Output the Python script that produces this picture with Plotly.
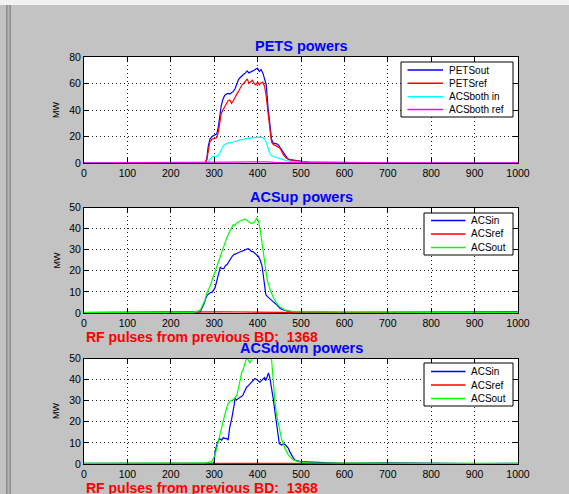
import plotly.graph_objects as go

W, H = 569, 494

# ---------------- data ----------------
x_axis_ticks = [0, 100, 200, 300, 400, 500, 600, 700, 800, 900, 1000]
y1_ticks = [0, 20, 40, 60, 80]
y23_ticks = [0, 10, 20, 30, 40, 50]

titles = ["PETS powers", "ACSup powers", "ACSdown powers"]
rf_text = "RF pulses from previous BD:  1368"
y_label = "MW"

pets_x = [0, 50, 100, 150, 200, 250, 270, 280, 283, 286, 290, 295, 300, 306, 310, 313, 316, 320,
          324, 328, 332, 336, 340, 344, 348, 352, 356, 360, 364, 368, 372, 376, 380, 384, 388, 392,
          396, 400, 404, 408, 412, 416, 420, 424, 428, 432, 436, 440, 444, 448, 452, 456, 460, 465,
          470, 475, 480, 490, 500, 510, 520, 540, 560, 600, 650, 700, 750, 800, 850, 900, 950, 1000]
pets_out = [0.3, 0.2, 0.3, 0.2, 0.3, 0.2, 0.3, 0.5, 3, 12, 18, 20, 21, 22, 28, 37, 43, 48,
            51, 52, 52.5, 52, 53, 54, 56, 60, 63, 64.5, 66, 67, 68, 69.5, 68, 68.5, 69.5, 70,
            71, 71.5, 69, 70.5, 68, 64, 59, 42, 28, 18, 15, 15, 14.5, 13.5, 11.5, 9.5, 7, 5,
            3, 2.5, 2.2, 1.8, 1.2, 0.8, 0.6, 0.5, 0.4, 0.4, 0.3, 0.3, 0.3, 0.4, 0.3, 0.3, 0.3, 0.3]
pets_ref = [0.2, 0.3, 0.2, 0.3, 0.2, 0.3, 0.2, 0.4, 2.5, 10, 16, 18, 18.5, 19, 24, 31, 37, 40,
            42, 45, 47, 47.5, 45, 47, 50, 52, 54, 57, 59, 60, 62, 63.5, 60, 61, 62.5, 60,
            59, 61, 59, 60.5, 61, 58, 50, 38, 26, 16, 14, 13.5, 13, 12, 11, 8, 6, 4,
            2.8, 2.2, 1.8, 1.5, 0.9, 0.7, 0.5, 0.4, 0.3, 0.3, 0.2, 0.3, 0.2, 0.3, 0.2, 0.3, 0.2, 0.3]
acsboth_in_x = [0, 100, 200, 280, 286, 290, 295, 300, 306, 310, 314, 318, 322, 326, 330, 340, 350,
                360, 370, 380, 390, 400, 410, 416, 420, 424, 428, 432, 440, 448, 456, 466, 480,
                500, 520, 600, 700, 800, 900, 1000]
acsboth_in = [0.1, 0.1, 0.1, 0.1, 0.5, 2.5, 4.5, 5, 5, 6, 8, 11, 13.5, 14.5, 15, 15.5, 16.5,
              17.5, 18.2, 18.8, 19.3, 19.5, 19.3, 18.5, 15.5, 11, 7.5, 5.5, 4.5, 3.5, 2.7, 1.8, 1,
              0.5, 0.3, 0.2, 0.2, 0.2, 0.1, 0.1]
acsboth_ref_x = [0, 280, 300, 350, 380, 400, 420, 440, 500, 1000]
acsboth_ref = [0.2, 0.2, 0.5, 0.7, 0.9, 1.0, 0.8, 0.5, 0.3, 0.2]

up_in_x = [0, 100, 200, 260, 268, 272, 276, 280, 284, 290, 296, 302, 306, 310, 314, 318, 322, 326,
           330, 334, 338, 342, 346, 350, 356, 362, 368, 374, 378, 382, 386, 390, 394, 398, 402,
           406, 410, 413, 416, 419, 424, 430, 436, 440, 446, 450, 456, 464, 470, 486, 500, 550,
           600, 700, 800, 900, 1000]
up_in = [0.2, 0.3, 0.2, 0.2, 0.5, 2.5, 4, 6.5, 8.5, 9.5, 10, 12, 15, 19, 21.7, 21, 21, 22.5,
         23, 24.5, 26, 27, 27.8, 28, 28.7, 29.2, 29.5, 30, 30.5, 30, 29.2, 29, 28.4, 27.5, 26.8,
         25, 22.5, 18, 12, 8.6, 7.5, 6.5, 5.5, 4.6, 3.5, 2.5, 1.7, 1.2, 0.9, 0.6, 0.5, 0.4,
         0.3, 0.3, 0.2, 0.3, 0.5]
up_ref_x = [0, 250, 300, 320, 350, 400, 450, 1000]
up_ref = [0.2, 0.2, 0.5, 0.6, 0.6, 0.5, 0.3, 0.2]
up_out_x = [0, 100, 200, 250, 256, 262, 268, 274, 279, 283, 290, 298, 306, 313, 321, 329, 336, 340,
            344, 348, 352, 359, 365, 371, 378, 386, 392, 398, 401, 403, 407, 412, 417, 422, 429,
            437, 444, 452, 463, 482, 500, 550, 600, 700, 800, 900, 1000]
up_out = [0.3, 0.2, 0.3, 0.3, 0.5, 1, 1.4, 4, 6.2, 9.4, 12.5, 17.3, 22, 26.8, 31.6, 35.6, 38.7, 40.5,
          41.9, 41.5, 42.7, 43.5, 44, 44.6, 43.5, 42.4, 43, 45, 44, 42.7, 38, 30, 22, 15.7, 11,
          7, 4.6, 2.7, 1.4, 0.6, 0.5, 0.4, 0.3, 0.4, 0.3, 0.3, 0.3]

down_in_x = [0, 100, 200, 280, 298, 300, 302, 307, 312, 317, 321, 325, 329, 332, 336, 340, 343, 346,
             348, 352, 356, 360, 363, 366, 369, 372, 375, 378, 382, 386, 390, 394, 398, 402, 405,
             409, 413, 416, 419, 422, 425, 428, 430, 433, 436, 440, 444, 447, 450, 455, 459, 463,
             467, 471, 475, 478, 482, 486, 492, 498, 510, 528, 550, 580, 600, 700, 800, 900, 1000]
down_in = [0.3, 0.2, 0.3, 0.2, 0.3, 1, 5.8, 9.7, 12.1, 11.3, 12.5, 12.1, 12, 11.3, 17.6, 21, 24, 28,
           31, 30.5, 31, 31.5, 31.8, 32.5, 34, 35.5, 36.5, 37, 38, 39, 39.6, 40.5, 40, 39.5, 38.8,
           39.5, 40.4, 41, 39.6, 41, 43.2, 41, 38.8, 35, 31, 24.7, 17.6, 13, 9.7, 9, 9.5, 9.3,
           8.5, 7.4, 5.5, 4.2, 3, 1.9, 1.4, 1.1, 1, 0.8, 0.6, 0.5, 0.3, 0.5, 0.3, 0.2, 0.3]
down_ref_x = [0, 300, 350, 400, 450, 1000]
down_ref = [0.2, 0.3, 0.5, 0.5, 0.3, 0.2]
down_out_x = [0, 100, 200, 270, 279, 287, 294, 302, 309, 317, 325, 332, 338, 344, 352, 356, 359.5,
              363, 367, 372.5, 375, 378, 382, 386, 390, 400, 410, 420, 428, 432, 434, 436, 440,
              444, 448, 455, 463, 471, 482, 494, 511, 550, 600, 700, 800, 900, 1000]
down_out = [0.3, 0.3, 0.3, 0.3, 0.5, 0.8, 1.1, 4.2, 10.5, 17.6, 23.9, 28.6, 30, 30.5, 32.5, 36, 40.4,
            43, 45, 49, 50.5, 49.5, 48, 49, 52, 55, 56, 56, 54, 50, 44, 38.8, 29.4,
            23, 18.4, 12, 7.4, 4.2, 1.9, 1.1, 0.6, 0.5, 0.4, 0.4, 0.3, 0.3, 0.3]

names1 = ["PETSout", "PETSref", "ACSboth in", "ACSboth ref"]
colors1 = ["#0000ff", "#ff0000", "#00ffff", "#ff00ff"]
names23 = ["ACSin", "ACSref", "ACSout"]
colors23 = ["#0000ff", "#ff0000", "#00ff00"]

def px(x):
    return x / W

def py(y):
    return 1 - y / H

FONT = "Liberation Sans, Arial, Helvetica, sans-serif"
xdom = [px(84), px(518)]
ydoms = [[py(163), py(57)], [py(313), py(207.5)], [py(464), py(358.5)]]

fig = go.Figure()

series = [
    (1, [(pets_x, pets_out), (pets_x, pets_ref), (acsboth_in_x, acsboth_in), (acsboth_ref_x, acsboth_ref)], names1, colors1),
    (2, [(up_in_x, up_in), (up_ref_x, up_ref), (up_out_x, up_out)], names23, colors23),
    (3, [(down_in_x, down_in), (down_ref_x, down_ref), (down_out_x, down_out)], names23, colors23),
]
for k, data, names, cols in series:
    for (xs, ys), n, c in zip(data, names, cols):
        fig.add_trace(go.Scatter(x=xs, y=ys, name=n, mode="lines",
                                 line=dict(color=c, width=1.2),
                                 xaxis="x" if k == 1 else f"x{k}",
                                 yaxis="y" if k == 1 else f"y{k}",
                                 showlegend=False, hoverinfo="skip"))

axis_common = dict(showline=True, linecolor="black", linewidth=1, mirror="ticks",
                   ticks="inside", ticklen=5, tickcolor="black", tickwidth=1,
                   showgrid=True, gridcolor="#202020", gridwidth=1, griddash="1px,3px",
                   zeroline=False, tickfont=dict(family=FONT, size=10.5, color="black"),
                   fixedrange=True, automargin=False)

layout = dict(width=W, height=H, margin=dict(l=0, r=0, t=0, b=0, pad=0), autosize=False,
              paper_bgcolor="#c3c3c3", plot_bgcolor="white", showlegend=False)

for k in (1, 2, 3):
    xa = "xaxis" if k == 1 else f"xaxis{k}"
    ya = "yaxis" if k == 1 else f"yaxis{k}"
    layout[xa] = dict(axis_common, domain=xdom, range=[0, 1000], tickvals=x_axis_ticks,
                      anchor="y" if k == 1 else f"y{k}")
    if k == 1:
        layout[ya] = dict(axis_common, domain=ydoms[0], range=[0, 80], tickvals=y1_ticks, anchor="x")
    else:
        layout[ya] = dict(axis_common, domain=ydoms[k - 1], range=[0, 50], tickvals=y23_ticks,
                          anchor=f"x{k}")
fig.update_layout(**layout)

shapes = []
annotations = []

# window decoration (light strip on top, bevelled frame at the left)
shapes.append(dict(type="rect", xref="paper", yref="paper", x0=0, x1=1, y0=py(5), y1=1,
                   fillcolor="#f2f2f2", line=dict(width=0), layer="below"))
shapes.append(dict(type="rect", xref="paper", yref="paper", x0=px(6), x1=px(11), y0=0, y1=py(5),
                   fillcolor="#8e8e8e", line=dict(width=0), layer="below"))
shapes.append(dict(type="rect", xref="paper", yref="paper", x0=px(7.5), x1=px(9.5), y0=0, y1=py(5),
                   fillcolor="#b4b4b4", line=dict(width=0), layer="below"))

for t, yc in zip(titles, [46, 197, 348]):
    annotations.append(dict(text=t, xref="paper", yref="paper", x=px(301), y=py(yc),
                            xanchor="center", yanchor="middle", showarrow=False,
                            font=dict(family=FONT, size=14.5, color="#0000ff", weight="bold")))
for yc in [110, 260.5, 411]:
    annotations.append(dict(text=y_label, xref="paper", yref="paper", x=px(56), y=py(yc),
                            xanchor="center", yanchor="middle", showarrow=False, textangle=-90,
                            font=dict(family=FONT, size=9, color="black")))
for yc in [337, 488]:
    annotations.append(dict(text=rf_text, xref="paper", yref="paper", x=px(84), y=py(yc),
                            xanchor="left", yanchor="middle", showarrow=False,
                            font=dict(family=FONT, size=14, color="#ff0000", weight="bold")))

def legend(names, cols, box, rows, lx0, lx1, tx):
    x0, y0, x1, y1 = box
    shapes.append(dict(type="rect", xref="paper", yref="paper", x0=px(x0), x1=px(x1),
                       y0=py(y1), y1=py(y0), fillcolor="white", line=dict(color="black", width=1)))
    for n, c, ry in zip(names, cols, rows):
        shapes.append(dict(type="line", xref="paper", yref="paper", x0=px(lx0), x1=px(lx1),
                           y0=py(ry), y1=py(ry), line=dict(color=c, width=1.5)))
        annotations.append(dict(text=n, xref="paper", yref="paper", x=px(tx), y=py(ry),
                                xanchor="left", yanchor="middle", showarrow=False,
                                font=dict(family=FONT, size=10, color="black")))

legend(names1, colors1, (401, 62, 513, 117), [70, 83.3, 96.7, 109.5], 407.5, 443, 447)
legend(names23, colors23, (424, 213, 513, 255), [220.5, 234, 247.5], 431, 465.5, 469)
legend(names23, colors23, (424, 363, 513, 406), [371.5, 385, 398.5], 431, 465.5, 469)

fig.update_layout(shapes=shapes, annotations=annotations)
fig.write_html("out.html", config={"displayModeBar": False})
